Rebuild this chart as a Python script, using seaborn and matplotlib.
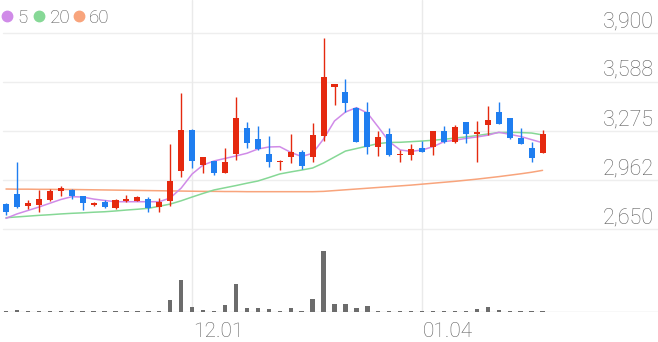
import matplotlib
matplotlib.use("Agg")
import matplotlib.pyplot as plt
import matplotlib.transforms as mtransforms
import numpy as np
import pandas as pd
import seaborn as sns

# ---------------- data ----------------
opens  = [2810, 2873, 2797, 2804, 2835, 2892, 2899, 2860, 2805, 2822,
          2782, 2828, 2831, 2843, 2788, 2830, 3017, 3283, 3058, 3084,
          3005, 3128, 3296, 3222, 3126, 3075, 3107, 3143, 3111, 3245,
          3558, 3526, 3424, 3398, 3175, 3256, 3122, 3122, 3165, 3175,
          3277, 3207, 3330, 3254, 3313, 3398, 3356, 3228, 3169, 3137]
highs  = [2816, 3077, 2835, 2899, 2905, 2924, 2905, 2860, 2824, 2835,
          2840, 2867, 2860, 2852, 2846, 3190, 3515, 3287, 3111, 3084,
          3165, 3494, 3334, 3309, 3245, 3090, 3254, 3154, 3324, 3866,
          3575, 3605, 3428, 3458, 3277, 3296, 3154, 3190, 3211, 3277,
          3309, 3313, 3330, 3341, 3436, 3458, 3360, 3292, 3207, 3281]
lows   = [2739, 2787, 2777, 2760, 2830, 2860, 2841, 2771, 2799, 2782,
          2780, 2824, 2828, 2760, 2760, 2797, 2984, 3037, 3005, 2994,
          3005, 3090, 3165, 3154, 3047, 3026, 3069, 3033, 3079, 3211,
          3441, 3394, 3207, 3126, 3117, 3117, 3075, 3090, 3139, 3122,
          3197, 3197, 3197, 3079, 3250, 3318, 3224, 3190, 3079, 3137]
closes = [2758, 2790, 2818, 2844, 2894, 2909, 2860, 2814, 2816, 2788,
          2835, 2839, 2852, 2782, 2820, 2958, 3283, 3084, 3111, 3005,
          3079, 3356, 3197, 3158, 3075, 3084, 3139, 3052, 3250, 3617,
          3575, 3455, 3207, 3175, 3239, 3122, 3128, 3160, 3143, 3275,
          3203, 3298, 3254, 3271, 3345, 3320, 3232, 3192, 3105, 3256]
volumes = [8000, 20000, 10000, 10000, 10000, 10000, 10000, 10000, 10000, 10000,
           10000, 10000, 10000, 12000, 15000, 123000, 320000, 53000, 25000, 15000,
           67000, 280000, 45000, 45000, 30000, 12000, 42000, 12000, 130000, 610000,
           82000, 80000, 40000, 63000, 10000, 10000, 10000, 10000, 10000, 10000,
           10000, 10000, 10000, 30000, 53000, 20000, 10000, 10000, 10000, 10000]
ma5  = [2718, 2746, 2768, 2790, 2814, 2838, 2856, 2854, 2841, 2832,
        2824, 2824, 2824, 2824, 2824, 2848, 2911, 3001, 3058, 3084,
        3100, 3116, 3133, 3160, 3173, 3175, 3139, 3112, 3133, 3224,
        3339, 3396, 3424, 3390, 3300, 3207, 3154, 3145, 3154, 3175,
        3207, 3216, 3228, 3237, 3248, 3267, 3254, 3240, 3220, 3200]
ma20 = [2722, 2727, 2732, 2737, 2741, 2746, 2750, 2753, 2757, 2760,
        2765, 2771, 2776, 2782, 2795, 2809, 2830, 2854, 2877, 2899,
        2913, 2927, 2942, 2956, 2978, 3001, 3014, 3026, 3039, 3071,
        3109, 3147, 3163, 3179, 3195, 3202, 3203, 3207, 3211, 3216,
        3222, 3230, 3237, 3246, 3256, 3265, 3267, 3265, 3262, 3250]
ma60 = [2905, 2904, 2904, 2903, 2903, 2902, 2902, 2901, 2900, 2899,
        2898, 2897, 2896, 2895, 2894, 2893, 2892, 2891, 2890, 2890,
        2889, 2889, 2888, 2888, 2888, 2888, 2888, 2888, 2888, 2890,
        2895, 2900, 2905, 2910, 2915, 2920, 2925, 2930, 2936, 2942,
        2948, 2954, 2961, 2968, 2976, 2984, 2993, 3002, 3012, 3024]
price_ticks = [3900, 3588, 3275, 2962, 2650]
price_tick_labels = ["3,900", "3,588", "3,275", "2,962", "2,650"]
date_positions = [17, 38]
date_labels = ["12.01", "01.04"]
ma_names = ["5", "20", "60"]

# ---------------- style ----------------
sns.set_theme(style="white")
plt.rcParams['font.family'] = ['Roboto', 'DejaVu Sans']

UP = "#e5290f"
DOWN = "#1f7ef0"
MA_COLORS = ["#d08be8", "#86d896", "#f8a47c"]
TEXT = "#5f5f5f"

W, H = 658, 342
fig = plt.figure(figsize=(W / 100, H / 100), dpi=100)
plot_bottom_px = 312
ax = fig.add_axes([0, (H - plot_bottom_px) / H, 1, plot_bottom_px / H])

# price scale: top tick at y=33px, bottom tick at y=229px
ppx = (price_ticks[0] - price_ticks[-1]) / (229 - 33)
ax.set_ylim(price_ticks[-1] - (plot_bottom_px - 229) * ppx, price_ticks[0] + 33 * ppx)
step = 10.95
ax.set_xlim(-6 / step, (W - 6) / step)

n = len(opens)
idx = np.arange(n)
df = pd.DataFrame({"i": idx, "open": opens, "high": highs, "low": lows,
                   "close": closes, "vol": volumes,
                   "ma5": ma5, "ma20": ma20, "ma60": ma60})

# grid
for t in price_ticks:
    ax.axhline(t, xmin=3 / W, xmax=1, color="#eeeeee", lw=1.0, zorder=0)
for p in date_positions:
    ax.axvline(p, color="#eaeaea", lw=1.0, zorder=0)

# moving averages
for col, c in zip(["ma60", "ma20", "ma5"], [MA_COLORS[2], MA_COLORS[1], MA_COLORS[0]]):
    sns.lineplot(data=df, x="i", y=col, ax=ax, color=c, lw=1.1, zorder=2, legend=False)

# candles
colors = [UP if c >= o else DOWN for o, c in zip(opens, closes)]
ax.vlines(idx, lows, highs, colors=colors, lw=1.0, zorder=3)
bottoms = np.minimum(opens, closes)
heights = np.maximum(np.abs(np.array(closes) - np.array(opens)), 5)
ax.bar(idx, heights, bottom=bottoms, width=0.55, color=colors, zorder=4, linewidth=0)

# volume
axv = ax.twinx()
axv.bar(df["i"], df["vol"], width=0.4, color="#6c6c6c", linewidth=0, zorder=2)
axv.set_ylim(0, plot_bottom_px * 10000)
axv.axhline(0, xmin=3 / W, xmax=1, color="#dedede", lw=1.0, zorder=1)
axv.set_xlim(ax.get_xlim())

for a in (ax, axv):
    for s in a.spines.values():
        s.set_visible(False)
    a.set_xticks([])
    a.set_yticks([])
    a.set_xlabel("")
    a.set_ylabel("")
    a.patch.set_alpha(0)

# price labels
tr = mtransforms.blended_transform_factory(ax.transAxes, ax.transData)
tr = mtransforms.offset_copy(tr, fig=fig, x=0, y=6, units="dots")
for t, lab in zip(price_ticks, price_tick_labels):
    ax.text(654 / W, t, lab, transform=tr, ha="right", va="baseline",
            fontsize=15.5, color=TEXT, fontweight="light")

# date labels
trd = mtransforms.blended_transform_factory(ax.transData, ax.transAxes)
trd = mtransforms.offset_copy(trd, fig=fig, x=1, y=-25, units="dots")
for p, lab in zip(date_positions, date_labels):
    ax.text(p, 0, lab, transform=trd, ha="left", va="baseline",
            fontsize=15, color=TEXT, fontweight="light")

# legend
for (cx, tx), name, c in zip([(7, 17), (39, 50), (79, 89)], ma_names, MA_COLORS):
    fig.add_artist(plt.Line2D([cx / W], [1 - 16 / H], marker="o", markersize=7.5,
                              color=c, transform=fig.transFigure, linestyle="none"))
    fig.text(tx / W, 1 - 23.3 / H, name, ha="left", va="baseline",
             fontsize=13.5, color="#555555", fontweight="light")

fig.savefig("out.png", dpi=100)
